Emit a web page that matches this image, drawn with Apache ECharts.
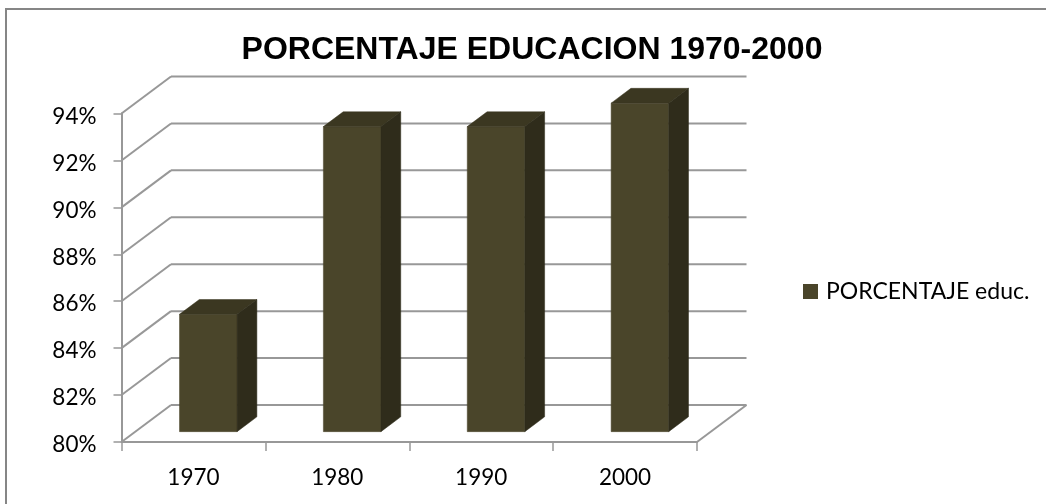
<!DOCTYPE html>
<html><head><meta charset="utf-8">
<style>html,body{margin:0;padding:0;background:#fff}#c{width:1046px;height:504px}</style>
<script src="https://cdn.jsdelivr.net/npm/echarts@6/dist/echarts.min.js"></script>
</head><body><div id="c"></div>
<script>
const categories = ['1970','1980','1990','2000'];
const percentages = [85,93,93,94];
const gridValues = [80,82,84,86,88,90,92,94];
const seriesName = 'PORCENTAJE educ.';
const titleText = 'PORCENTAJE EDUCACION 1970-2000';

const DX = 49.5, DY = -37;
const GRID = '#989898', FRONT = '#4a452a', TOP = '#3b3721', SIDE = '#2f2c1b', BORDER = '#868686';

function poly(pts, fill){
  return {type:'polygon', shape:{points:pts}, style:{fill:fill, stroke:fill, lineWidth:0.5}};
}
const chart = echarts.init(document.getElementById('c'), null, {renderer:'canvas'});
chart.setOption({
  animation:false,
  backgroundColor:'#fff',
  title:{text:titleText,left:527,top:29,textAlign:'center',
    textStyle:{fontFamily:'Liberation Sans',fontWeight:'bold',fontSize:32,color:'#000'}},
  legend:{left:803,top:280,padding:0,orient:'vertical',icon:'rect',itemWidth:15,itemHeight:15,
    textStyle:{fontFamily:'Lato',fontSize:23,color:'#000',padding:[0,0,0,3]},data:[seriesName]},
  grid:{left:121.5,right:349,top:113.5,bottom:62},
  xAxis:{type:'category',data:categories,boundaryGap:true,
    axisLine:{lineStyle:{color:GRID,width:2}},
    axisTick:{show:true,alignWithLabel:false,length:9,lineStyle:{color:GRID,width:1.5}},
    axisLabel:{fontFamily:'Lato',fontSize:22.5,color:'#000',margin:24},splitLine:{show:false}},
  yAxis:{type:'value',min:80,max:94,interval:2,
    axisLine:{show:true,lineStyle:{color:GRID,width:2}},
    axisTick:{show:true,length:8,lineStyle:{color:GRID,width:1.5}},
    axisLabel:{margin:25,formatter:'{t|{value}%}',
      rich:{t:{fontFamily:'Lato',fontSize:22.5,color:'#000',padding:[6,0,0,0]}}},splitLine:{show:false}},
  series:[
    {type:'custom',coordinateSystem:'cartesian2d',silent:true,z:1,
     data:gridValues.map(v=>[0,v]),
     encode:{x:0,y:1},
     renderItem(params,api){
       const v=api.value(1);
       const band=api.size([1,0])[0];
       const p=api.coord([0,v]);
       const x0=p[0]-band/2, y=p[1], x1=x0+band*categories.length;
       const line=(a,b)=>({type:'line',shape:{x1:a[0],y1:a[1],x2:b[0],y2:b[1]},style:{stroke:GRID,lineWidth:2}});
       const kids=[line([x0,y],[x0+DX,y+DY]),line([x0+DX,y+DY],[x1+DX,y+DY])];
       if(v===gridValues[0]) kids.push(line([x1,y],[x1+DX,y+DY]));
       return {type:'group',children:kids};
     }},
    {type:'custom',name:seriesName,coordinateSystem:'cartesian2d',silent:true,z:2,
     itemStyle:{color:FRONT},
     data:categories.map((c,i)=>[i,percentages[i]]),
     encode:{x:0,y:1},
     renderItem(params,api){
       const band=api.size([1,0])[0];
       const w=band*0.4, f=0.3, b=0.7, fy=0.28;
       const cx=api.coord([api.value(0),0])[0];
       const yTop=api.coord([0,api.value(1)])[1];
       const yBase=api.coord([0,80])[1];
       const xl=cx-w/2+DX*f, xr=cx+w/2+DX*f;
       const yt=yTop+DY*fy, yb=yBase+DY*fy;
       const ox=DX*(b-f), oy=DY*(b-f);
       return {type:'group',children:[
         poly([[xl,yt],[xr,yt],[xr,yb],[xl,yb]],FRONT),
         poly([[xl,yt],[xl+ox,yt+oy],[xr+ox,yt+oy],[xr,yt]],TOP),
         poly([[xr,yt],[xr+ox,yt+oy],[xr+ox,yb+oy],[xr,yb]],SIDE)
       ]};
     }}
  ],
  graphic:[
    {type:'line',silent:true,shape:{x1:6,y1:9,x2:1046,y2:9},style:{stroke:BORDER,lineWidth:2}},
    {type:'line',silent:true,shape:{x1:6,y1:8,x2:6,y2:504},style:{stroke:BORDER,lineWidth:2}}
  ]
});
</script></body></html>
